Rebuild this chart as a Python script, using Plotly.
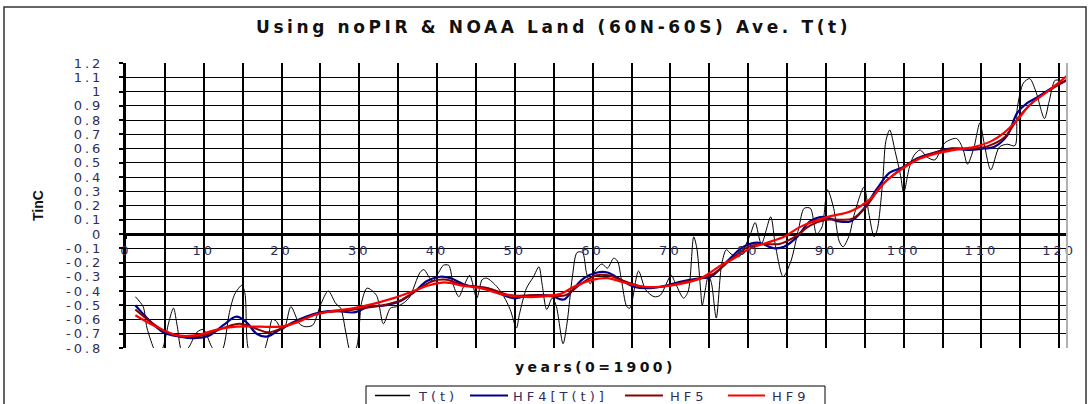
import plotly.graph_objects as go

# ---- data: years since 1900 and temperature anomaly (deg C) ----
t_years = [1.2, 2.2, 2.7, 3.7, 4.2, 4.8, 5.5, 6.1, 6.6, 7.2, 8.0, 9.1, 9.95, 11.0, 11.8, 12.5,
           13.3, 14.0, 14.9, 15.3, 15.7, 16.5, 17.5, 18.3, 18.8, 19.3, 20.0, 20.4, 21.2, 22.3,
           23.0, 24.0, 25.0, 26.0, 27.0, 27.6, 28.3, 28.9, 29.6, 30.3, 31.0, 32.2, 33.1, 34.0,
           34.8, 35.8, 36.5, 37.8, 38.3, 39.4, 40.2, 40.8, 41.5, 42.1, 42.8, 43.4, 44.2, 45.1,
           45.8, 46.4, 47.7, 48.6, 49.4, 50.2, 50.6, 51.5, 52.4, 53.1, 53.5, 54.1, 54.8, 55.3,
           56.2, 56.7, 57.4, 58.0, 58.7, 59.2, 59.7, 60.4, 61.2, 61.9, 62.7, 63.2, 63.7, 64.4,
           64.8, 65.9, 66.8, 67.9, 68.7, 70.1, 70.6, 71.7, 72.3, 73.0, 73.4, 73.9, 74.1, 74.9,
           75.3, 75.9, 76.6, 77.2, 77.8, 78.8, 79.5, 80.3, 80.9, 81.7, 82.9, 83.5, 84.5, 85.5,
           86.5, 87.2, 88.0, 88.8, 89.5, 90.2, 91.0, 91.7, 92.2, 93.0, 93.6, 94.9, 95.5, 96.2,
           96.6, 97.3, 97.7, 98.2, 98.9, 99.6, 100.0, 100.7, 101.3, 102.1, 103.0, 104.0, 105.3,
           106.8, 107.6, 108.2, 109.0, 109.8, 110.3, 111.2, 112.3, 113.3, 114.3, 114.6, 115.4,
           116.2, 117.0, 118.1, 118.7, 119.5, 120.4]
T_vals = [-0.44, -0.51, -0.66, -0.82, -0.86, -0.79, -0.62, -0.52, -0.65, -0.82, -0.80, -0.69,
          -0.67, -0.79, -0.85, -0.80, -0.55, -0.42, -0.36, -0.42, -0.80, -0.88, -0.85, -0.72,
          -0.60, -0.61, -0.67, -0.66, -0.51, -0.63, -0.65, -0.64, -0.50, -0.40, -0.49, -0.52,
          -0.70, -0.83, -0.80, -0.48, -0.38, -0.43, -0.63, -0.52, -0.51, -0.48, -0.44, -0.27,
          -0.25, -0.33, -0.27, -0.22, -0.22, -0.36, -0.44, -0.37, -0.29, -0.45, -0.32, -0.31,
          -0.37, -0.44, -0.53, -0.66, -0.56, -0.38, -0.30, -0.23, -0.35, -0.53, -0.45, -0.50,
          -0.77, -0.63, -0.30, -0.13, -0.13, -0.27, -0.35, -0.25, -0.21, -0.24, -0.17, -0.19,
          -0.32, -0.51, -0.52, -0.26, -0.39, -0.44, -0.43, -0.29, -0.34, -0.45, -0.40, -0.02,
          -0.10, -0.40, -0.50, -0.29, -0.35, -0.59, -0.21, -0.11, -0.14, -0.16, -0.10, 0.00,
          0.08, -0.07, 0.12, -0.08, -0.30, -0.19, 0.04, 0.18, 0.18, 0.00, 0.05, 0.31, 0.18,
          -0.05, -0.09, -0.01, 0.13, 0.33, 0.15, -0.02, 0.03, 0.37, 0.65, 0.73, 0.58, 0.41,
          0.29, 0.46, 0.55, 0.59, 0.54, 0.52, 0.64, 0.67, 0.60, 0.49, 0.60, 0.78, 0.65, 0.45,
          0.61, 0.63, 0.62, 0.88, 1.06, 1.09, 1.00, 0.81, 0.93, 1.08, 1.07]

hf4_t = [1.2, 2.7, 4.8, 6.9, 9.1, 10.8, 12.5, 14.2, 15.5, 16.8, 18.1, 19.8, 21.5, 23.2, 25.0,
         27.1, 29.3, 31.2, 33.5, 35.3, 37.0, 38.7, 40.4, 41.7, 43.8, 46.4, 48.6, 49.8, 51.1,
         52.4, 53.7, 55.0, 56.3, 57.6, 58.9, 60.6, 61.9, 63.6, 65.3, 67.4, 69.6, 71.7, 73.9,
         75.2, 77.7, 79.4, 81.2, 83.3, 84.6, 86.3, 88.0, 89.7, 91.5, 93.2, 94.9, 96.6, 98.2,
         100.0, 101.7, 103.9, 106.0, 108.2, 110.3, 111.6, 113.3, 114.6, 115.9, 117.2, 118.9,
         121.0]
hf4_vals = [-0.50, -0.59, -0.69, -0.72, -0.73, -0.71, -0.64, -0.58, -0.62, -0.70, -0.72, -0.67,
            -0.62, -0.58, -0.55, -0.54, -0.55, -0.51, -0.50, -0.47, -0.41, -0.33, -0.30, -0.31,
            -0.36, -0.38, -0.43, -0.45, -0.44, -0.43, -0.43, -0.44, -0.46, -0.38, -0.31, -0.27,
            -0.27, -0.32, -0.37, -0.38, -0.36, -0.33, -0.31, -0.30, -0.17, -0.09, -0.06, -0.10,
            -0.09, -0.02, 0.09, 0.12, 0.09, 0.09, 0.18, 0.32, 0.43, 0.47, 0.53, 0.57, 0.60, 0.59,
            0.60, 0.61, 0.69, 0.85, 0.92, 0.96, 1.02, 1.08]

hf5_t = [1.2, 3.0, 5.0, 7.5, 10.0, 12.5, 14.6, 16.5, 18.3, 20.5, 23.0, 25.5, 28.0, 30.5, 33.0,
         35.5, 37.5, 39.5, 41.0, 43.5, 46.5, 49.5, 52.0, 54.5, 56.5, 58.5, 60.5, 62.0, 64.0,
         66.5, 69.0, 71.5, 74.0, 75.5, 78.0, 80.0, 82.0, 84.0, 86.0, 88.0, 90.0, 92.0, 93.5,
         95.0, 97.0, 99.0, 101.5, 104.0, 106.5, 109.0, 111.0, 113.0, 114.8, 116.5, 118.5, 121.0]
hf5_vals = [-0.53, -0.61, -0.68, -0.72, -0.71, -0.66, -0.63, -0.66, -0.69, -0.65, -0.59, -0.55,
            -0.54, -0.52, -0.50, -0.46, -0.39, -0.33, -0.32, -0.36, -0.38, -0.43, -0.43, -0.43,
            -0.43, -0.35, -0.29, -0.29, -0.33, -0.37, -0.37, -0.34, -0.31, -0.28, -0.17, -0.09,
            -0.07, -0.07, -0.02, 0.06, 0.10, 0.10, 0.11, 0.18, 0.33, 0.43, 0.52, 0.57, 0.60,
            0.60, 0.62, 0.68, 0.82, 0.92, 1.00, 1.08]

hf9_t = [1.2, 3.5, 6.5, 9.1, 11.7, 14.2, 17.2, 19.8, 22.0, 24.1, 26.7, 29.3, 31.8, 34.4, 37.0,
         39.0, 41.0, 43.0, 45.6, 48.1, 50.7, 53.3, 55.9, 57.6, 60.1, 61.9, 64.0, 66.6, 68.7,
         71.3, 73.9, 76.5, 78.2, 80.3, 82.5, 84.6, 86.7, 90.2, 93.2, 95.8, 97.5, 99.6, 101.7,
         103.9, 106.5, 109.0, 111.2, 112.9, 114.6, 116.3, 118.5, 121.0]
hf9_vals = [-0.57, -0.64, -0.71, -0.71, -0.67, -0.65, -0.65, -0.65, -0.62, -0.57, -0.54, -0.52,
            -0.49, -0.45, -0.40, -0.36, -0.34, -0.36, -0.38, -0.42, -0.44, -0.44, -0.42, -0.37,
            -0.32, -0.31, -0.34, -0.37, -0.37, -0.35, -0.31, -0.22, -0.17, -0.10, -0.06, -0.02,
            0.05, 0.12, 0.16, 0.25, 0.36, 0.45, 0.52, 0.56, 0.59, 0.61, 0.65, 0.71, 0.80, 0.91,
            1.00, 1.11]

x_ticks = list(range(0, 121, 10))
x_tick_text = [str(v) for v in x_ticks]
y_ticks = [round(-0.8 + 0.1 * i, 1) for i in range(21)]
y_tick_text = ["-0.8", "-0.7", "-0.6", "-0.5", "-0.4", "-0.3", "-0.2", "-0.1", "0", "0.1",
               "0.2", "0.3", "0.4", "0.5", "0.6", "0.7", "0.8", "0.9", "1", "1.1", "1.2"]

series_names = ["T(t)", "HF4[T(t)]", "HF5", "HF9"]
series_colors = ["#000000", "#00008b", "#8b0000", "#ff0000"]
series_widths = [1, 2.2, 2, 2.2]

FONT = "Arial, Liberation Sans, sans-serif"
WIDE_FONT = "DejaVu Sans, Verdana, sans-serif"
LABEL_COLOR = "#2e2e5c"

# plotting area in pixels (left, right, top, bottom)
PL, PR, PT, PB = 126, 1067, 63, 348


def px_x(px):
    return (px - PL) / (PR - PL)


def px_y(py):
    return (PB - py) / (PB - PT)


def spaced(s, px):
    return f"<span style='letter-spacing:{px}px'>{s}</span>"


fig = go.Figure()
series = [(t_years, T_vals), (hf4_t, hf4_vals), (hf5_t, hf5_vals), (hf9_t, hf9_vals)]
for (xs, ys), name, color, width in zip(series, series_names, series_colors, series_widths):
    fig.add_trace(go.Scatter(x=xs, y=ys, name=name, mode="lines",
                             line=dict(color=color, width=width, shape="spline",
                                       smoothing=0.8 if name == "T(t)" else 1.0)))

fig.update_layout(
    width=1090, height=404,
    margin=dict(l=PL, r=1090 - PR, t=PT, b=404 - PB, autoexpand=False),
    paper_bgcolor="white", plot_bgcolor="white",
    font=dict(family=FONT, size=13, color=LABEL_COLOR),
    showlegend=False,
)

fig.update_xaxes(
    range=[0, 121], anchor="free", position=0.4,
    tickvals=x_ticks, ticktext=[spaced(s, 3) for s in x_tick_text],
    ticks="outside", ticklen=4, tickwidth=2, tickcolor="#000000",
    showline=False, zeroline=False,
    showgrid=True, gridcolor="#000000", gridwidth=2,
    minor=dict(dtick=5, showgrid=True, gridcolor="#000000", gridwidth=2),
    tickfont=dict(family=WIDE_FONT, size=13, color=LABEL_COLOR),
)
fig.update_yaxes(
    range=[-0.8, 1.2],
    tickvals=y_ticks, ticktext=[spaced(s, 3) for s in y_tick_text],
    ticks="outside", ticklen=4, tickwidth=2, tickcolor="#000000",
    ticklabelstandoff=13,
    showline=True, linecolor="#000000", linewidth=3,
    zeroline=True, zerolinecolor="#000000", zerolinewidth=2.5,
    showgrid=True, gridcolor="#000000", gridwidth=1.3,
    tickfont=dict(family=WIDE_FONT, size=13, color=LABEL_COLOR),
)

# right edge of the plotting area
fig.add_shape(type="line", xref="paper", yref="paper", x0=1, x1=1, y0=0, y1=1,
              line=dict(color="#b0b0b0", width=2))
# outer chart frame
fig.add_shape(type="rect", xref="paper", yref="paper",
              x0=px_x(4), x1=px_x(1086), y0=px_y(420), y1=px_y(7),
              line=dict(color="#333333", width=1.5))

# legend: framed row of line samples and names along the bottom
fig.add_shape(type="rect", xref="paper", yref="paper",
              x0=px_x(366), x1=px_x(825), y0=px_y(420), y1=px_y(386),
              line=dict(color="#000000", width=1), fillcolor="white")
legend_line_px = [(375, 410), (470, 508), (625, 663), (728, 765)]
legend_text_px = [418, 513, 670, 772]
for name, color, width, (lx0, lx1), tx in zip(series_names, series_colors, series_widths,
                                               legend_line_px, legend_text_px):
    fig.add_shape(type="line", xref="paper", yref="paper",
                  x0=px_x(lx0), x1=px_x(lx1), y0=px_y(395.5), y1=px_y(395.5),
                  line=dict(color=color, width=max(width, 1.5)))
    fig.add_annotation(text=spaced(name, 4), xref="paper", yref="paper",
                       x=px_x(tx - 2), y=px_y(396), xanchor="left", yanchor="middle",
                       showarrow=False, font=dict(family=WIDE_FONT, size=13, color=LABEL_COLOR))

# chart title and axis titles
fig.add_annotation(text="<b>" + spaced("Using noPIR &amp; NOAA Land (60N-60S) Ave. T(t)", 3.6) + "</b>",
                   xref="paper", yref="paper", x=px_x(553), y=px_y(27),
                   xanchor="center", yanchor="middle", showarrow=False,
                   font=dict(family=WIDE_FONT, size=17, color="#111111"))
fig.add_annotation(text="<b>" + spaced("years(0=1900)", 3.4) + "</b>",
                   xref="paper", yref="paper", x=px_x(595), y=px_y(367),
                   xanchor="center", yanchor="middle", showarrow=False,
                   font=dict(family=WIDE_FONT, size=14, color="#111111"))
fig.add_annotation(text="<b>TinC</b>",
                   xref="paper", yref="paper", x=px_x(38), y=px_y(206),
                   xanchor="center", yanchor="middle", showarrow=False, textangle=-90,
                   font=dict(family=FONT, size=14, color="#111111"))

fig.write_html("out.html")
